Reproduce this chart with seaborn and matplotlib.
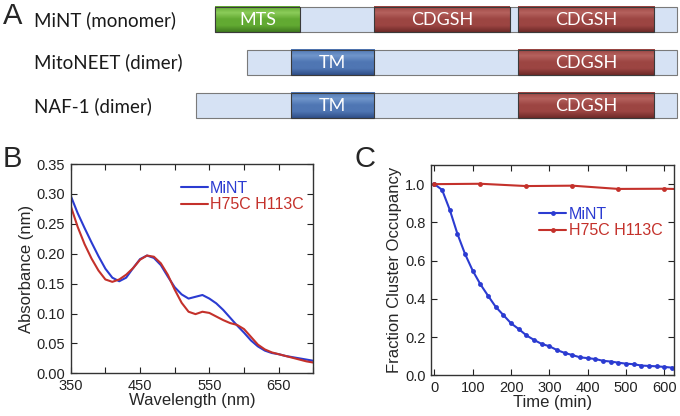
import numpy as np
import pandas as pd
import matplotlib
matplotlib.use("Agg")
import matplotlib.pyplot as plt
import seaborn as sns
from matplotlib.patches import Rectangle
from matplotlib.colors import LinearSegmentedColormap

# ---------------- data ----------------
# Panel A: domain map (sequence position units, NAF-1 = 0..100)
proteins = ["MiNT (monomer)", "MitoNEET (dimer)", "NAF-1 (dimer)"]
protein_start = [4.0, 10.7, 0.0]
protein_end = [100.0, 100.0, 100.0]
domain_protein = [0, 0, 0, 1, 1, 2, 2]
domain_name = ["MTS", "CDGSH", "CDGSH", "TM", "CDGSH", "TM", "CDGSH"]
domain_start = [4.0, 37.1, 67.0, 19.8, 67.0, 19.8, 67.0]
domain_end = [21.6, 65.3, 95.3, 37.1, 95.3, 37.1, 95.3]

# Panel B: absorbance spectra
wavelength = [350, 360, 370, 380, 390, 400, 410, 420, 430, 440, 450, 460,
              470, 480, 490, 500, 510, 520, 530, 540, 550, 560, 570, 580,
              590, 600, 610, 620, 630, 640, 650, 660, 670, 680, 690, 700]
abs_mint = [0.297, 0.268, 0.243, 0.219, 0.196, 0.175, 0.160, 0.154, 0.160,
            0.176, 0.191, 0.197, 0.193, 0.181, 0.162, 0.144, 0.132, 0.125,
            0.128, 0.131, 0.125, 0.117, 0.106, 0.093, 0.080, 0.068, 0.055,
            0.045, 0.038, 0.034, 0.032, 0.029, 0.027, 0.025, 0.023, 0.021]
abs_mut = [0.280, 0.245, 0.216, 0.192, 0.172, 0.157, 0.153, 0.157, 0.165,
           0.176, 0.190, 0.197, 0.195, 0.184, 0.165, 0.140, 0.118, 0.103,
           0.099, 0.103, 0.101, 0.095, 0.089, 0.084, 0.081, 0.074, 0.061,
           0.048, 0.040, 0.035, 0.032, 0.029, 0.026, 0.023, 0.020, 0.018]

# Panel C: cluster stability
time_mint = [0, 20, 40, 60, 80, 100, 120, 140, 160, 180, 200, 220, 240, 260,
             280, 300, 320, 340, 360, 380, 400, 420, 440, 460, 480, 500, 520,
             540, 560, 580, 600, 620]
occ_mint = [1.0, 0.97, 0.866, 0.74, 0.634, 0.547, 0.476, 0.416, 0.358, 0.315,
            0.272, 0.242, 0.209, 0.185, 0.164, 0.152, 0.132, 0.117, 0.106,
            0.094, 0.090, 0.085, 0.076, 0.072, 0.066, 0.061, 0.058, 0.051,
            0.049, 0.047, 0.044, 0.040]
time_mut = [0, 120, 240, 360, 480, 600, 720]
occ_mut = [1.0, 1.002, 0.99, 0.992, 0.975, 0.976, 0.97]

blue = "#2b3bd1"
red = "#c4312b"
domain_colors = {"MTS": ("#3f7a1e", "#62aa32", "#8ccc5a"),
                 "CDGSH": ("#6e2a28", "#9c4542", "#b5625e"),
                 "TM": ("#2f4f88", "#4f76b3", "#7096cb")}

sns.set_style("ticks")
plt.rcParams["font.family"] = ["Liberation Sans", "DejaVu Sans"]

fig = plt.figure(figsize=(6.8, 4.16), dpi=100)

# ---------------- Panel A ----------------
ax_a = fig.add_axes([0, 0.68, 1, 0.32])
ax_a.set_axis_off()
row_y = [19.8, 62.5, 105.8]
row_h = 25
grad = np.linspace(0, 1, 64).reshape(-1, 1)
for i, name in enumerate(proteins):
    y0 = row_y[i] - row_h / 2
    ax_a.add_patch(Rectangle((protein_start[i], y0), protein_end[i] - protein_start[i], row_h,
                             facecolor="#d6e2f4", edgecolor="#7a7a7a", lw=0.8, zorder=1))
    fig.text(34 / 680, 1 - row_y[i] / 416, name, family=["Lato", "DejaVu Sans"],
             fontsize=13.5, va="center", ha="left", color="#1a1a1a")
for p, d, s, e in zip(domain_protein, domain_name, domain_start, domain_end):
    y0 = row_y[p] - row_h / 2
    dark, mid, light = domain_colors[d]
    cmap = LinearSegmentedColormap.from_list(d, [mid, light, mid, mid, dark])
    ax_a.imshow(grad, extent=[s, e, y0 + row_h, y0], cmap=cmap, aspect="auto", zorder=2)
    ax_a.add_patch(Rectangle((s, y0), e - s, row_h, facecolor="none",
                             edgecolor="#3a3a3a", lw=0.8, zorder=3))
    ax_a.text((s + e) / 2, row_y[p] + 0.5, d, family=["Lato", "DejaVu Sans"], fontsize=13,
              color="white", ha="center", va="center", zorder=4)
ax_a.set_xlim(-40.77, 100.69)
ax_a.set_ylim(133.1, 0)

fig.text(3 / 680, 1 - 16 / 416, "A", fontsize=21, va="center", ha="left")
fig.text(3 / 680, 1 - 159 / 416, "B", fontsize=21, va="center", ha="left")
fig.text(354 / 680, 1 - 159 / 416, "C", fontsize=21, va="center", ha="left")

# ---------------- Panel B ----------------
spec = pd.DataFrame({
    "wavelength": wavelength * 2,
    "absorbance": abs_mint + abs_mut,
    "sample": ["MiNT"] * len(wavelength) + ["H75C H113C"] * len(wavelength),
})
ax_b = fig.add_axes([0.104, 0.1026, 0.3568, 0.503])
sns.lineplot(data=spec, x="wavelength", y="absorbance", hue="sample",
             palette={"MiNT": blue, "H75C H113C": red}, lw=1.5, ax=ax_b)
ax_b.set_xlim(350, 700)
ax_b.set_ylim(0, 0.35)
ax_b.set_xticks([350, 450, 550, 650])
ax_b.set_xticks([400, 500, 600, 700], minor=True)
ax_b.set_yticks(np.arange(0, 0.351, 0.05))
ax_b.set_yticklabels([f"{v:.2f}" for v in np.arange(0, 0.351, 0.05)])
ax_b.set_xlabel("Wavelength (nm)", fontsize=12, labelpad=0)
ax_b.set_ylabel("Absorbance (nm)", fontsize=12, labelpad=2)
ax_b.legend(title=None, frameon=False, fontsize=11.5, handlelength=1.7, handletextpad=0.15,
            labelspacing=0.1, labelcolor="linecolor", loc="upper right",
            bbox_to_anchor=(1.02, 0.99))

# ---------------- Panel C ----------------
occ = pd.DataFrame({
    "time": time_mint + time_mut,
    "occupancy": occ_mint + occ_mut,
    "sample": ["MiNT"] * len(time_mint) + ["H75C H113C"] * len(time_mut),
})
ax_c = fig.add_axes([0.6338, 0.0978, 0.3578, 0.5055])
sns.lineplot(data=occ, x="time", y="occupancy", hue="sample",
             palette={"MiNT": blue, "H75C H113C": red}, marker="o", markersize=3.5,
             markeredgewidth=0, lw=1.5, ax=ax_c)
ax_c.set_xlim(-9, 626)
ax_c.set_ylim(0, 1.1)
ax_c.set_xticks(range(0, 601, 100))
ax_c.set_yticks(np.arange(0, 1.01, 0.2))
ax_c.set_yticklabels([f"{v:.1f}" for v in np.arange(0, 1.01, 0.2)])
ax_c.set_xlabel("Time (min)", fontsize=12, labelpad=0)
ax_c.set_ylabel("Fraction Cluster Occupancy", fontsize=12, labelpad=2)
ax_c.legend(title=None, frameon=False, fontsize=11.5, handlelength=1.7, handletextpad=0.15,
            labelspacing=0.1, labelcolor="linecolor", loc="upper right",
            bbox_to_anchor=(1.01, 0.87))

for ax in (ax_b, ax_c):
    ax.tick_params(which="both", direction="in", top=True, right=True, width=0.8,
                   labelsize=10.5, colors="#222222")
    ax.tick_params(which="both", length=4)
    ax.tick_params(axis="x", pad=4)
    ax.tick_params(axis="y", pad=4)
    for sp in ax.spines.values():
        sp.set_visible(True)
        sp.set_linewidth(1.0)
        sp.set_color("#333333")

fig.savefig("out.png", dpi=100)
